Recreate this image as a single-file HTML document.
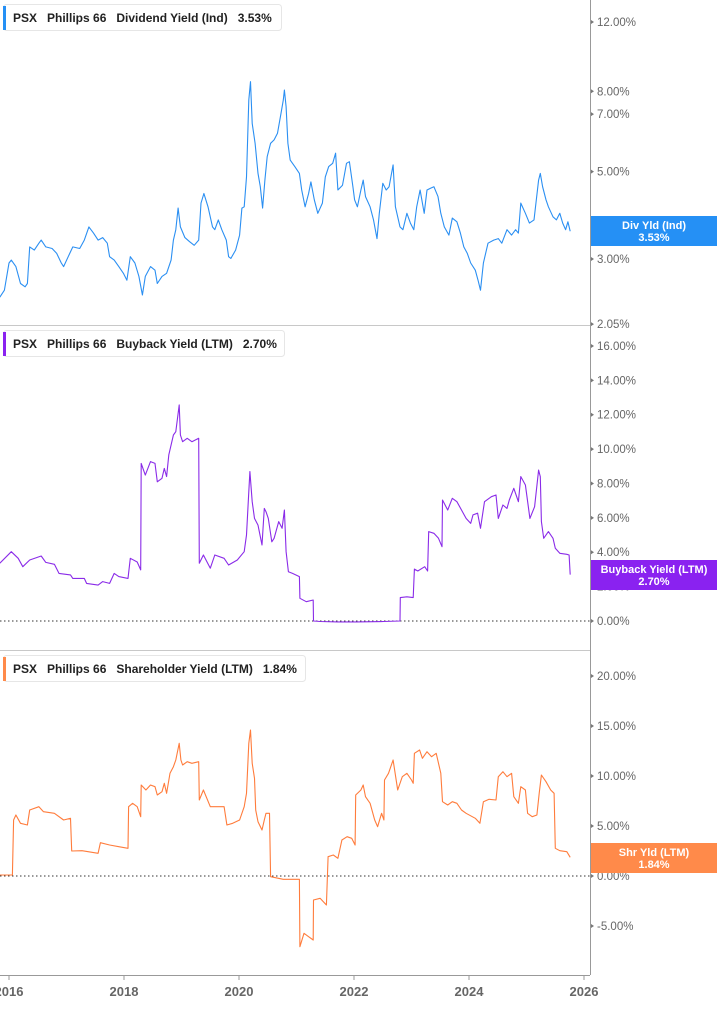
<!DOCTYPE html>
<html><head><meta charset="utf-8">
<style>
html,body{margin:0;padding:0;background:#fff;}
body{width:717px;height:1005px;overflow:hidden;font-family:"Liberation Sans",sans-serif;}
svg text{font-family:"Liberation Sans",sans-serif;}
</style></head>
<body>
<svg id="chart" width="717" height="1005" viewBox="0 0 717 1005" xmlns="http://www.w3.org/2000/svg">
<defs>
<clipPath id="c1"><rect x="0" y="0" width="590" height="325"/></clipPath>
<clipPath id="c2"><rect x="0" y="326" width="590" height="324"/></clipPath>
<clipPath id="c3"><rect x="0" y="651" width="590" height="324"/></clipPath>
</defs>
</svg>
<script>
const yearTicks=[2016,2018,2020,2022,2024,2026];
const divYears=[2015.84,2015.92,2016.00,2016.04,2016.12,2016.20,2016.28,2016.32,2016.36,2016.44,2016.52,2016.56,2016.64,2016.75,2016.83,2016.91,2016.95,2017.03,2017.11,2017.23,2017.31,2017.39,2017.47,2017.55,2017.63,2017.71,2017.75,2017.83,2017.91,2017.99,2018.05,2018.11,2018.19,2018.26,2018.32,2018.37,2018.46,2018.54,2018.58,2018.66,2018.74,2018.82,2018.86,2018.90,2018.94,2018.98,2019.06,2019.14,2019.22,2019.30,2019.34,2019.39,2019.46,2019.54,2019.58,2019.64,2019.70,2019.78,2019.82,2019.86,2019.94,2020.01,2020.05,2020.09,2020.13,2020.17,2020.20,2020.23,2020.28,2020.33,2020.37,2020.41,2020.45,2020.49,2020.55,2020.61,2020.67,2020.73,2020.77,2020.79,2020.82,2020.85,2020.89,2020.97,2021.05,2021.09,2021.15,2021.21,2021.25,2021.31,2021.37,2021.45,2021.50,2021.56,2021.63,2021.68,2021.72,2021.80,2021.87,2021.92,2021.98,2022.01,2022.06,2022.12,2022.16,2022.20,2022.28,2022.34,2022.40,2022.44,2022.50,2022.56,2022.61,2022.68,2022.72,2022.80,2022.85,2022.92,2022.98,2023.04,2023.09,2023.15,2023.22,2023.27,2023.33,2023.39,2023.46,2023.51,2023.57,2023.65,2023.71,2023.79,2023.85,2023.91,2023.97,2024.03,2024.11,2024.16,2024.20,2024.25,2024.33,2024.43,2024.51,2024.57,2024.66,2024.74,2024.81,2024.86,2024.90,2024.98,2025.05,2025.13,2025.21,2025.24,2025.28,2025.34,2025.38,2025.46,2025.52,2025.58,2025.63,2025.68,2025.72,2025.76];
const divValues=[2.40,2.50,2.93,2.98,2.87,2.60,2.55,2.60,3.22,3.16,3.29,3.35,3.22,3.19,3.10,2.93,2.87,3.04,3.22,3.19,3.35,3.62,3.49,3.35,3.40,3.29,3.04,2.98,2.87,2.76,2.65,3.04,2.93,2.71,2.43,2.71,2.87,2.81,2.60,2.71,2.76,2.98,3.35,3.56,4.04,3.62,3.40,3.32,3.25,3.35,4.16,4.40,4.07,3.62,3.56,3.77,3.56,3.35,3.04,3.01,3.16,3.45,4.04,4.07,4.85,7.60,8.46,6.63,5.90,4.95,4.58,4.04,4.76,5.46,5.90,6.02,6.26,7.03,7.60,8.06,7.31,5.90,5.35,5.15,4.95,4.49,4.07,4.40,4.71,4.24,3.92,4.16,4.85,5.15,5.25,5.57,4.49,4.62,5.25,5.30,4.58,4.24,4.07,4.49,4.76,4.32,4.07,3.77,3.38,3.92,4.67,4.49,4.58,5.20,4.07,3.62,3.56,3.92,3.70,3.56,4.07,4.49,3.92,4.49,4.54,4.58,4.32,3.92,3.62,3.45,3.81,3.73,3.49,3.22,3.10,2.93,2.81,2.64,2.50,2.93,3.29,3.35,3.38,3.29,3.56,3.45,3.56,3.49,4.16,3.92,3.70,3.77,4.76,4.95,4.58,4.24,4.07,3.84,3.77,3.92,3.70,3.56,3.73,3.53];
const divTicks=[12,8,7,5,3,2.05];

const bbYears=[2015.84,2016.04,2016.16,2016.24,2016.36,2016.56,2016.64,2016.79,2016.87,2017.07,2017.11,2017.31,2017.35,2017.55,2017.63,2017.75,2017.83,2017.91,2018.07,2018.11,2018.23,2018.29,2018.30,2018.37,2018.46,2018.54,2018.58,2018.66,2018.70,2018.74,2018.78,2018.86,2018.90,2018.96,2018.98,2019.02,2019.10,2019.18,2019.30,2019.31,2019.38,2019.50,2019.58,2019.74,2019.82,2019.97,2020.09,2020.13,2020.17,2020.19,2020.23,2020.27,2020.33,2020.40,2020.44,2020.47,2020.51,2020.57,2020.61,2020.69,2020.75,2020.79,2020.82,2020.86,2020.93,2021.05,2021.06,2021.17,2021.29,2021.295,2021.41,2021.72,2022.04,2022.52,2022.80,2022.805,2022.92,2023.03,2023.05,2023.11,2023.23,2023.28,2023.30,2023.39,2023.47,2023.53,2023.54,2023.63,2023.71,2023.79,2023.87,2023.95,2024.03,2024.07,2024.15,2024.20,2024.27,2024.39,2024.47,2024.51,2024.59,2024.66,2024.70,2024.78,2024.86,2024.90,2024.98,2025.06,2025.14,2025.21,2025.24,2025.26,2025.30,2025.38,2025.46,2025.50,2025.58,2025.70,2025.74,2025.76];
const bbValues=[3.36,4.03,3.65,3.16,3.55,3.78,3.41,3.30,2.77,2.68,2.48,2.48,2.19,2.09,2.29,2.19,2.77,2.58,2.48,3.65,3.43,2.97,9.17,8.49,9.27,9.17,8.10,8.30,8.88,8.40,9.66,10.82,11.01,12.57,10.82,10.43,10.63,10.43,10.63,3.36,3.84,3.07,3.84,3.65,3.26,3.55,4.03,5.00,7.52,8.69,6.94,5.97,5.58,4.42,6.55,6.36,5.97,4.61,4.81,5.78,5.39,6.46,4.03,2.87,2.77,2.58,1.32,1.12,1.22,0.00,-0.03,-0.05,-0.05,-0.03,0.00,1.36,1.41,1.36,3.02,2.91,3.16,2.91,5.20,5.10,4.81,4.32,7.04,6.46,7.14,6.94,6.46,5.97,5.68,6.17,6.27,5.39,6.94,7.23,7.33,5.97,6.75,6.55,7.04,7.72,6.94,8.40,7.91,5.97,6.65,8.78,8.40,5.78,4.81,5.20,4.81,4.23,3.94,3.88,3.84,2.70];
const bbTicks=[16,14,12,10,8,6,4,2,0];

const shYears=[2015.84,2016.06,2016.08,2016.12,2016.20,2016.32,2016.36,2016.52,2016.60,2016.79,2016.95,2017.07,2017.09,2017.27,2017.55,2017.59,2017.75,2017.91,2018.07,2018.08,2018.15,2018.23,2018.29,2018.30,2018.38,2018.46,2018.54,2018.58,2018.66,2018.70,2018.74,2018.80,2018.86,2018.90,2018.96,2018.99,2019.02,2019.10,2019.18,2019.30,2019.31,2019.38,2019.50,2019.58,2019.74,2019.79,2019.89,2020.01,2020.09,2020.13,2020.17,2020.20,2020.23,2020.27,2020.29,2020.33,2020.40,2020.44,2020.47,2020.53,2020.55,2020.77,2021.05,2021.06,2021.13,2021.21,2021.29,2021.295,2021.41,2021.52,2021.55,2021.64,2021.72,2021.79,2021.88,2021.96,2022.02,2022.03,2022.12,2022.16,2022.20,2022.28,2022.36,2022.41,2022.48,2022.52,2022.53,2022.60,2022.68,2022.76,2022.84,2022.92,2023.00,2023.03,2023.05,2023.14,2023.19,2023.27,2023.35,2023.43,2023.51,2023.54,2023.63,2023.71,2023.79,2023.87,2023.95,2024.11,2024.19,2024.25,2024.35,2024.47,2024.51,2024.59,2024.66,2024.74,2024.78,2024.86,2024.90,2024.98,2025.02,2025.10,2025.18,2025.22,2025.26,2025.34,2025.42,2025.48,2025.50,2025.58,2025.70,2025.76];
const shValues=[0.1,0.1,5.6,6.1,5.27,5.1,6.6,6.93,6.43,6.27,5.6,5.77,2.5,2.53,2.27,3.33,3.1,2.93,2.77,6.93,7.27,6.93,5.93,9.1,8.6,9.1,8.93,8.1,8.43,9.27,8.27,10.27,10.93,11.6,13.27,11.6,11.1,11.43,11.27,11.43,7.6,8.6,6.93,6.93,6.93,5.1,5.27,5.6,6.93,8.27,13.27,14.6,11.27,9.77,6.6,5.43,4.6,5.6,6.27,6.27,-0.07,-0.33,-0.33,-7.07,-5.73,-6.07,-6.4,-2.4,-2.23,-2.9,1.93,2.1,1.77,3.6,3.93,3.77,3.1,8.1,8.6,9.1,7.93,7.27,5.6,4.93,6.27,5.6,9.6,10.27,11.6,8.6,9.93,10.27,9.6,9.27,12.27,12.6,11.77,12.43,11.93,12.27,10.27,7.43,7.1,7.43,7.27,6.6,6.27,5.77,5.27,7.43,7.67,7.6,9.93,10.43,9.93,10.27,7.93,7.27,8.93,8.6,6.27,5.93,6.1,8.27,10.1,9.43,8.6,8.27,2.77,2.53,2.43,1.87];
const shTicks=[20,15,10,5,0,-5];

const NS='http://www.w3.org/2000/svg';
const svg=document.getElementById('chart');
function mk(tag,attrs,parent){const e=document.createElementNS(NS,tag);for(const k in attrs)e.setAttribute(k,attrs[k]);(parent||svg).appendChild(e);return e;}
const xScale=y=>9+(y-2016)*57.5;
const yDiv=v=>259-171*Math.log(v/3);
const yBb=v=>621-17.19*v;
const ySh=v=>876-10*v;
const fmt=v=>v.toFixed(2)+'%';

// frame
let g=mk('g',{});


mk('line',{x1:0,y1:325.5,x2:590,y2:325.5,stroke:'#c8c8c8','stroke-width':1},g);
mk('line',{x1:0,y1:650.5,x2:590,y2:650.5,stroke:'#c8c8c8','stroke-width':1},g);
mk('line',{x1:590.5,y1:0,x2:590.5,y2:975,stroke:'#999','stroke-width':1},g);
mk('line',{x1:0,y1:975.5,x2:590,y2:975.5,stroke:'#999','stroke-width':1},g);
mk('line',{x1:0,y1:621,x2:590,y2:621,stroke:'#333','stroke-width':1,'stroke-dasharray':'1.5,2.5'},g);
mk('line',{x1:0,y1:876,x2:590,y2:876,stroke:'#333','stroke-width':1,'stroke-dasharray':'1.5,2.5'},g);

// x axis
yearTicks.forEach(yr=>{
  const x=xScale(yr);
  const t=mk('line',{x1:x,y1:975,x2:x,y2:980,stroke:'#999'});
  
  
  const l=mk('text',{x:x,y:996,'text-anchor':'middle','font-size':13,'font-weight':'bold',fill:'#666'});
  l.textContent=yr;
  
  
});

function yTicks(ticks,ys){
  ticks.forEach(v=>{
    const y=ys(v);
    const m=mk('path',{d:`M591 ${y-2}L594 ${y}L591 ${y+2}Z`,fill:'#777'});
    
    
    const t=mk('text',{x:597,y:y+4,'font-size':11.5,fill:'#666'});
    t.textContent=fmt(v);
    
    
  });
}
yTicks(divTicks,yDiv);yTicks(bbTicks,yBb);yTicks(shTicks,ySh);

function series(xs,vs,ys,color,clip,name){
  const d=xs.map((x,i)=>(i?'L':'M')+xScale(x).toFixed(1)+' '+ys(vs[i]).toFixed(1)).join('');
  const p=mk('path',{d:d,fill:'none',stroke:color,'stroke-width':1.1,'stroke-linejoin':'round','clip-path':`url(#${clip})`});
  
  
}
series(divYears,divValues,yDiv,'#2b8ff2','c1','dividend-yield-line');
series(bbYears,bbValues,yBb,'#8a2be8','c2','buyback-yield-line');
series(shYears,shValues,ySh,'#ff7c3c','c3','shareholder-yield-line');

function badge(y,color,l1,l2,name){
  const gg=mk('g',{});
  
  
  mk('rect',{x:591,y:y,width:126,height:30,fill:color},gg);
  const a=mk('text',{x:654,y:y+13,'text-anchor':'middle','font-size':11,'font-weight':'bold',fill:'#fff'},gg);a.textContent=l1;
  const b=mk('text',{x:654,y:y+25,'text-anchor':'middle','font-size':11,'font-weight':'bold',fill:'#fff'},gg);b.textContent=l2;
}
badge(216,'#2590f5','Div Yld (Ind)',fmt(divValues[divValues.length-1]),'dividend-value-badge');
badge(560,'#8a22f0','Buyback Yield (LTM)',fmt(bbValues[bbValues.length-1]),'buyback-value-badge');
badge(843,'#ff8a4a','Shr Yld (LTM)','1.84%','shareholder-value-badge');

function legend(y,w,color,metric,val,name){
  const gg=mk('g',{});
  
  
  mk('rect',{x:3.5,y:y+0.5,width:w,height:26,rx:3,fill:'#fff',stroke:'#e6e6e6'},gg);
  mk('rect',{x:3,y:y+2,width:3,height:24,fill:color},gg);
  const t=mk('text',{x:13,y:y+18,'font-size':12,'font-weight':'bold',fill:'#222'},gg);
  t.innerHTML=`PSX<tspan dx="10">Phillips 66</tspan><tspan dx="10" font-weight="normal" fill="#222" style="font-weight:600">${metric}</tspan><tspan dx="10">${val}</tspan>`;
}
legend(4,278,'#2590f5','Dividend Yield (Ind)','3.53%','dividend-legend');
legend(330,281,'#8a22f0','Buyback Yield (LTM)','2.70%','buyback-legend');
legend(655,302,'#ff8a4a','Shareholder Yield (LTM)','1.84%','shareholder-legend');
</script>
</body></html>
